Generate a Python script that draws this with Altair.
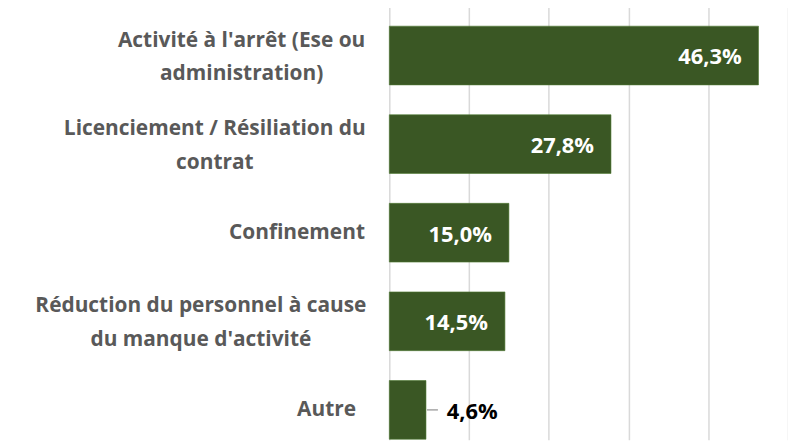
import altair as alt
import pandas as pd

categories = [
    "Activité à l'arrêt (Ese ou\nadministration)",
    "Licenciement / Résiliation du\ncontrat",
    "Confinement",
    "Réduction du personnel à cause\ndu manque d'activité",
    "Autre",
]
values = [46.3, 27.8, 15.0, 14.5, 4.6]
x_ticks = [0, 10, 20, 30, 40, 50]

df = pd.DataFrame({
    "cat": categories,
    "value": values,
    "label": [f"{v:.1f}%".replace(".", ",") for v in values],
    "inside": [v >= 10 for v in values],
})

FONT = "Open Sans"
GREEN = "#3a5724"

multi = "indexof(datum.value, '\\n') >= 0"
y_scale = alt.Scale(paddingInner=0.337, paddingOuter=0.1685, range=[0, 445.5])
y_enc = alt.Y(
    "cat:N",
    sort=categories,
    scale=y_scale,
    axis=alt.Axis(
        title=None, domain=False, ticks=False,
        labelExpr="split(datum.label, '\\n')",
        labelFont=FONT, labelFontSize=21, labelFontWeight="bold",
        labelColor="#595959", labelLineHeight=34, labelLimit=400,
        labelAlign={"condition": {"test": multi, "value": "center"}, "value": "right"},
        labelPadding={"condition": [
            {"test": "indexof(datum.value, 'Activit') == 0", "value": 149},
            {"test": "indexof(datum.value, 'Licenc') == 0", "value": 176},
            {"test": "indexof(datum.value, 'duction') == 2", "value": 190},
            {"test": "datum.value == 'Autre'", "value": 34},
        ], "value": 25},
        labelOffset={"condition": {"test": multi, "value": -15}, "value": 0},
    ),
)
x_enc = alt.X(
    "value:Q",
    scale=alt.Scale(domain=[0, 50], nice=False),
    axis=alt.Axis(
        title=None, values=x_ticks, labels=False, ticks=False, domain=False,
        grid=True, gridColor="#d9d9d9", gridWidth=1.5,
    ),
)

base = alt.Chart(df)

bars = base.mark_bar(color=GREEN, stroke="#4f7a33", strokeWidth=0.6).encode(x=x_enc, y=y_enc)

inside = base.transform_filter("datum.inside").mark_text(
    align="right", baseline="middle", dx=-17, dy=2, color="white",
    font=FONT, fontSize=22, fontWeight="bold",
).encode(x="value:Q", y=alt.Y("cat:N", sort=categories), text="label:N")

outside = base.transform_filter("!datum.inside").mark_text(
    align="left", baseline="middle", dx=21, dy=2, color="black",
    font=FONT, fontSize=22, fontWeight="bold",
).encode(x="value:Q", y=alt.Y("cat:N", sort=categories), text="label:N")

leader = base.transform_filter("!datum.inside").mark_rule(
    color="#a6a6a6", strokeWidth=1.5, xOffset=1, x2Offset=12,
).encode(x="value:Q", x2="value:Q", y=alt.Y("cat:N", sort=categories))

chart = alt.layer(bars, leader, inside, outside).properties(
    width=401,
    height=431,
    autosize=alt.AutoSizeParams(type="none"),
    padding={"left": 383.5, "top": 2, "right": 0, "bottom": 0},
).configure_view(stroke=None)

chart.save("out.html", embed_options={"renderer": "svg", "actions": False})
